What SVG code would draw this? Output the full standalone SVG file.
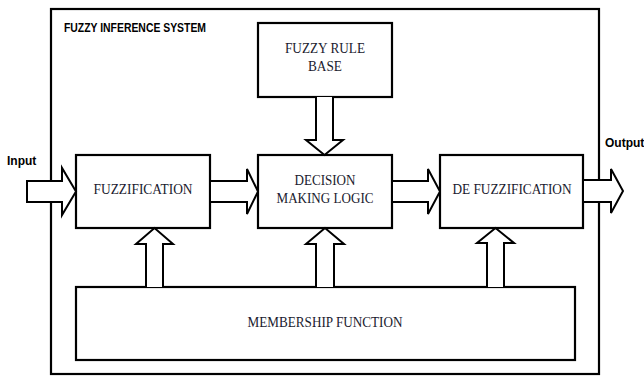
<svg xmlns="http://www.w3.org/2000/svg" width="644" height="376" viewBox="0 0 644 376">
<style>
.box{fill:#fff;stroke:#000;stroke-width:2.2}
.arr{fill:#fff;stroke:#000;stroke-width:2;stroke-linejoin:miter}
.t{font-family:"Liberation Serif","Times New Roman",serif;font-size:15px;fill:#1a1a2e;text-anchor:middle}
.s{font-family:"Liberation Sans",Arial,sans-serif;font-weight:bold;font-size:12px;fill:#000}
</style>
<rect width="644" height="376" fill="#fff"/>
<g id="system">
<rect class="box" x="51" y="9" width="548" height="365" fill="none"/>
<text class="s" x="64" y="32" textLength="142" lengthAdjust="spacingAndGlyphs">FUZZY INFERENCE SYSTEM</text>
</g>
<g id="rulebase">
<rect class="box" x="258" y="23" width="134" height="74"/>
<text class="t" x="325" y="53" textLength="80" lengthAdjust="spacingAndGlyphs">FUZZY RULE</text>
<text class="t" x="325" y="71" textLength="34" lengthAdjust="spacingAndGlyphs">BASE</text>
</g>
<g id="fuzzification">
<rect class="box" x="76" y="155" width="134" height="73"/>
<text class="t" x="143" y="194" textLength="99" lengthAdjust="spacingAndGlyphs">FUZZIFICATION</text>
</g>
<g id="decision">
<rect class="box" x="258" y="155" width="134" height="73"/>
<text class="t" x="325" y="185" textLength="61" lengthAdjust="spacingAndGlyphs">DECISION</text>
<text class="t" x="325" y="203" textLength="97" lengthAdjust="spacingAndGlyphs">MAKING LOGIC</text>
</g>
<g id="defuzzification">
<rect class="box" x="440" y="155" width="143" height="73"/>
<text class="t" x="512" y="194" textLength="119" lengthAdjust="spacingAndGlyphs">DE FUZZIFICATION</text>
</g>
<g id="membership">
<rect class="box" x="76" y="287" width="499" height="73"/>
<text class="t" x="325" y="327" textLength="155" lengthAdjust="spacingAndGlyphs">MEMBERSHIP FUNCTION</text>
</g>
<g id="connectors">
<path class="arr" d="M27,181 H62 V168 L76,191.5 L62,215 V202 H27 Z"/>
<path class="arr" d="M210,181 H247 V169 L258,191.5 L247,214 V202 H210 Z"/>
<path class="arr" d="M392,181 H428 V169 L440,191.5 L428,214 V202 H392 Z"/>
<path class="arr" d="M583,180 H611 V169 L623,191 L611,213 V202 H583 Z"/>
<path class="arr" d="M316,97 V140 H306 L324.5,155 L343,140 H333 V97"/>
<path class="arr" d="M146,287 V244 H136 L154.5,228 L173,244 H163 V287"/>
<path class="arr" d="M316,287 V244 H306 L325,228 L344,244 H334 V287"/>
<path class="arr" d="M487,287 V243 H477 L495.5,228 L514,243 H504 V287"/>
</g>
<text class="s" x="7" y="165">Input</text>
<text class="s" x="605" y="147">Output</text>
</svg>
